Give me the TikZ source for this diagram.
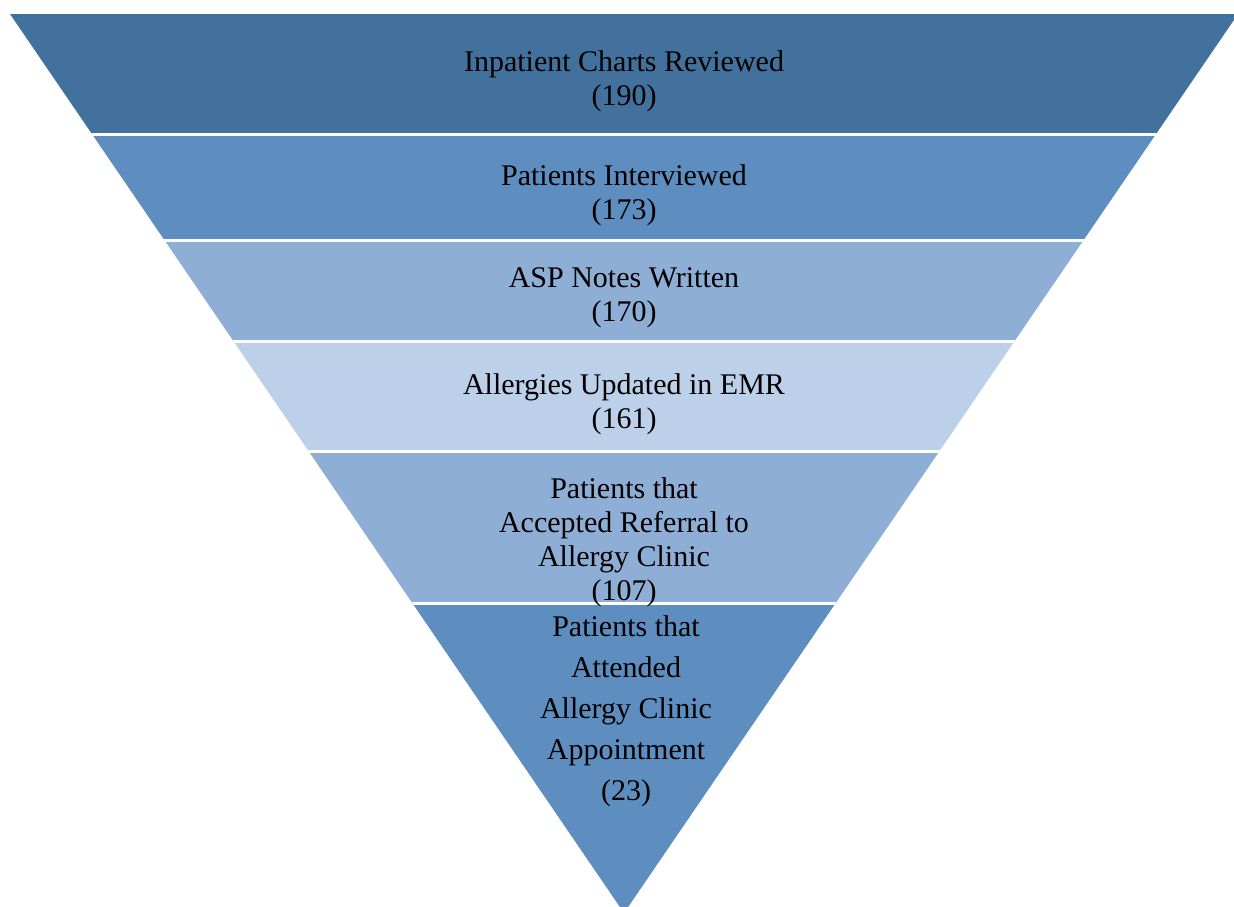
\documentclass[tikz,border=0pt]{standalone}
\usepackage{fontspec}
\setmainfont{Liberation Serif}
\definecolor{bandA}{RGB}{65,113,156}
\definecolor{bandB}{RGB}{94,142,192}
\definecolor{bandC}{RGB}{142,174,213}
\definecolor{bandD}{RGB}{189,208,233}
\tikzset{
  lbl/.style={align=center, font=\fontsize{15}{17}\selectfont, inner sep=0pt, text=black},
  lblwide/.style={align=center, font=\fontsize{15}{20.5}\selectfont, inner sep=0pt, text=black},
  sep/.style={draw=white, line width=1.5pt}
}
\begin{document}
\begin{tikzpicture}[x=0.5pt,y=-0.5pt]
\useasboundingbox (0,0) rectangle (1234,906);
\begin{scope}
\clip (0,0) rectangle (1234,906);
\clip (10,14) -- (1238,14) -- (624,913) -- cycle;
\fill[bandA] (0,14) rectangle (1240,134);
\fill[bandB] (0,134) rectangle (1240,240);
\fill[bandC] (0,240) rectangle (1240,341);
\fill[bandD] (0,341) rectangle (1240,451);
\fill[bandC] (0,451) rectangle (1240,603);
\fill[bandB] (0,603) rectangle (1240,920);
\coordinate (s1l) at (0,134); \coordinate (s1r) at (1240,134);
\coordinate (s2l) at (0,240); \coordinate (s2r) at (1240,240);
\coordinate (s3l) at (0,341); \coordinate (s3r) at (1240,341);
\coordinate (s4l) at (0,451); \coordinate (s4r) at (1240,451);
\coordinate (s5l) at (0,603); \coordinate (s5r) at (1240,603);
\draw[sep] (s1l) -- (s1r);
\draw[sep] (s2l) -- (s2r);
\draw[sep] (s3l) -- (s3r);
\draw[sep] (s4l) -- (s4r);
\draw[sep] (s5l) -- (s5r);
\end{scope}
\node[lbl] (t1) at (624,81) {Inpatient Charts Reviewed\\(190)};
\node[lbl] (t2) at (624,195) {Patients Interviewed\\(173)};
\node[lbl] (t3) at (624,298) {ASP Notes Written\\(170)};
\node[lbl] (t4) at (624,404) {Allergies Updated in EMR\\(161)};
\node[lbl] (t5) at (624,542) {Patients that\\Accepted Referral to\\Allergy Clinic\\(107)};
\node[lblwide] (t6) at (626,711) {Patients that\\Attended\\Allergy Clinic\\Appointment\\(23)};
\end{tikzpicture}
\end{document}
